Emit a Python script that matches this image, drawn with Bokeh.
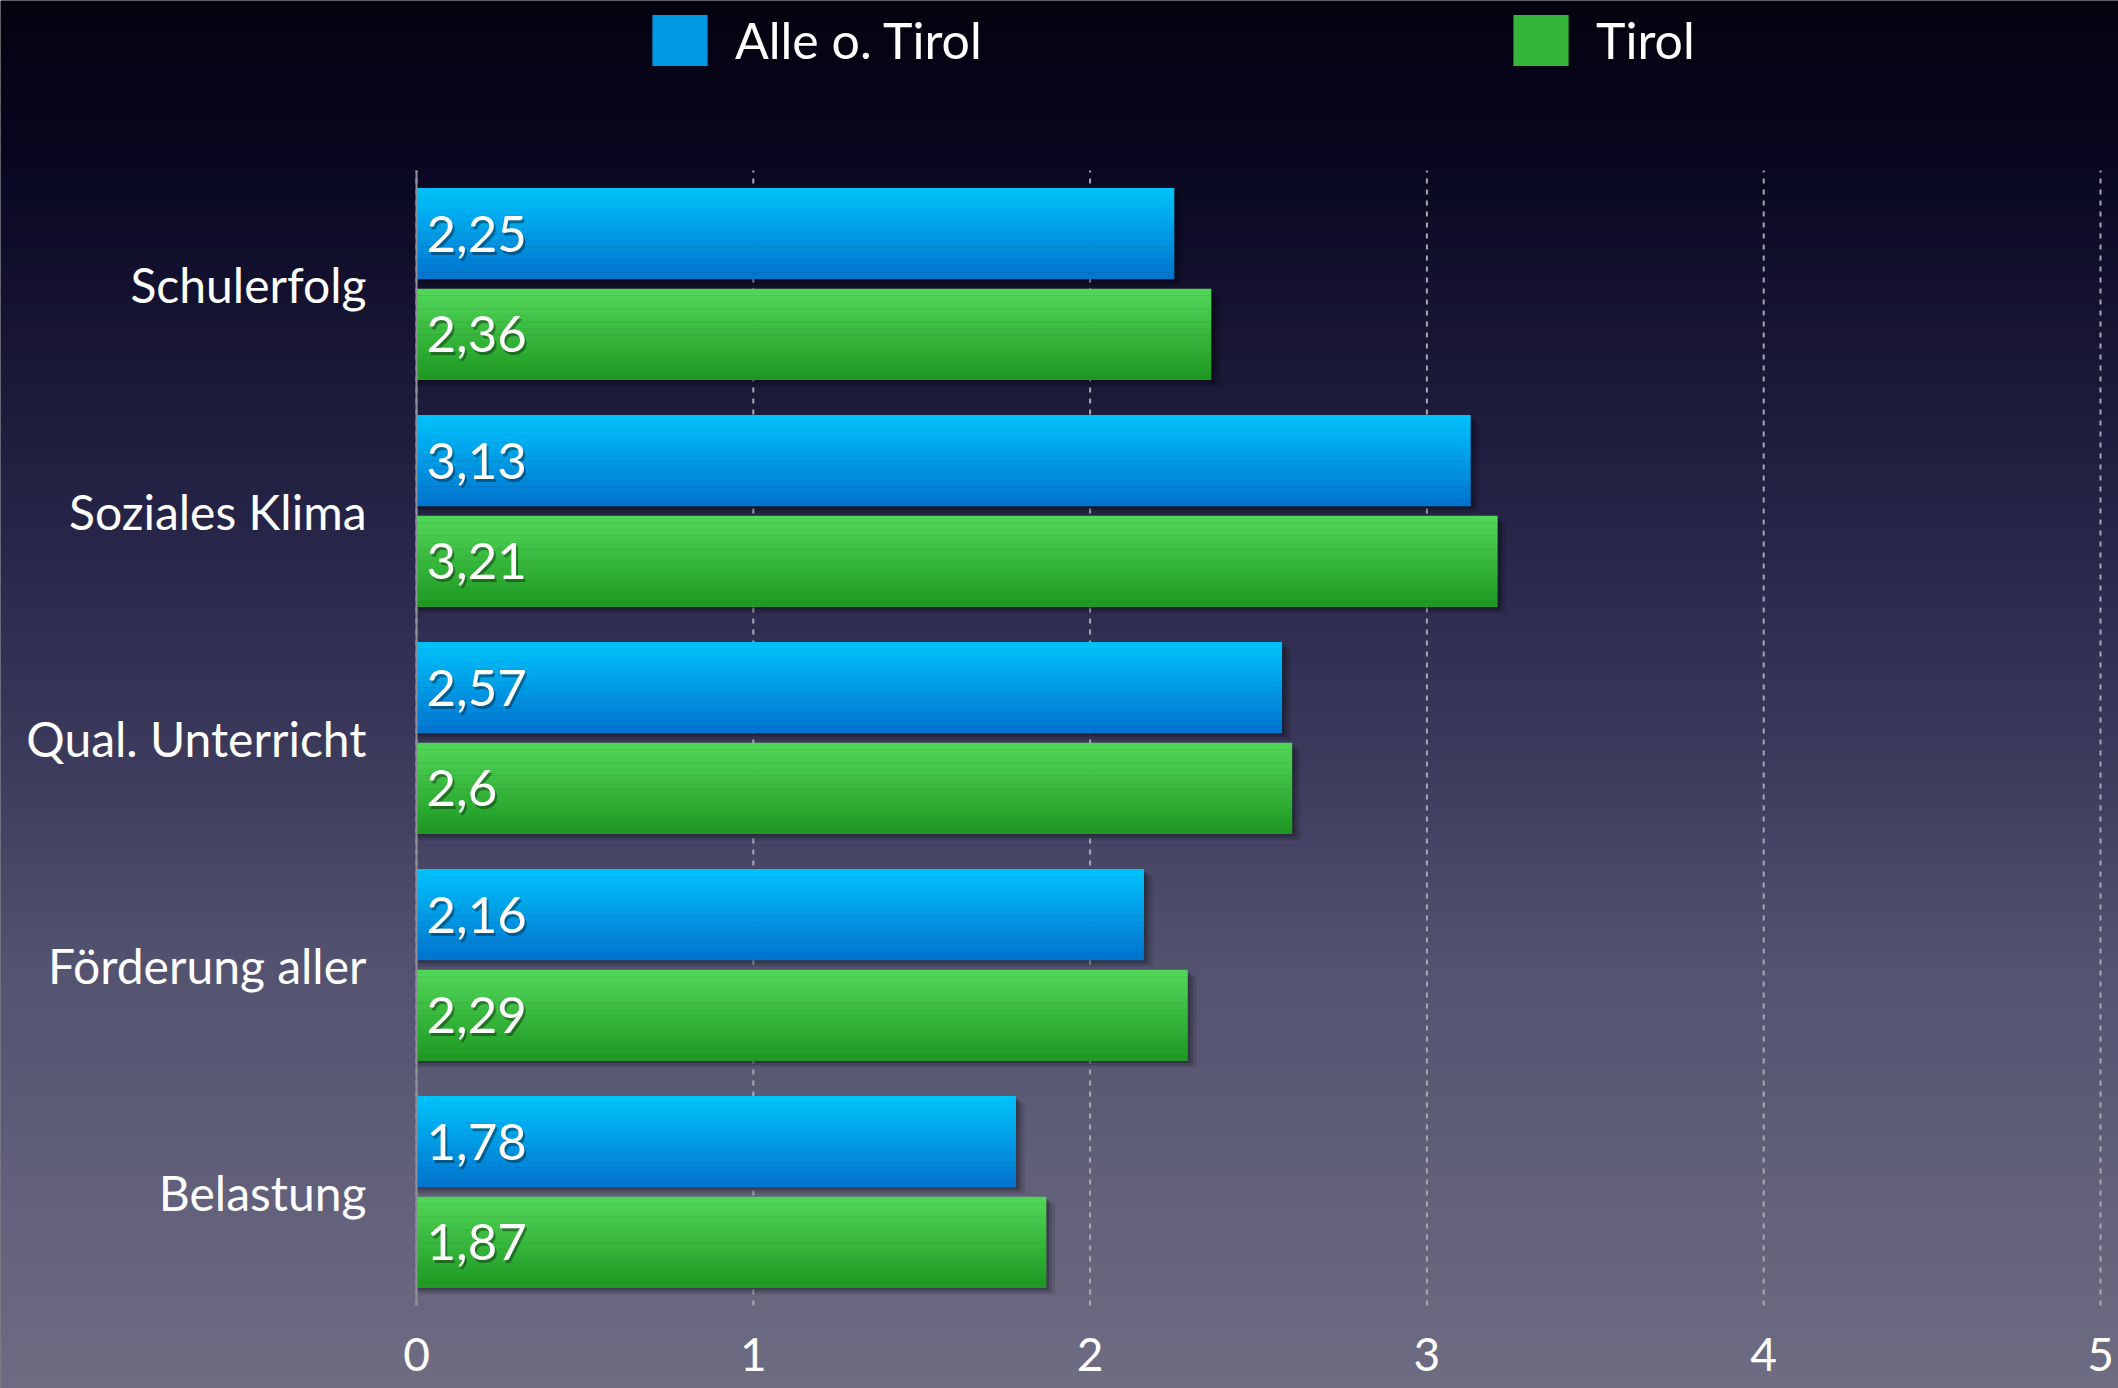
from bokeh.plotting import figure
from bokeh.models import (Range1d, FixedTicker, Legend, LegendItem,
                          BoxAnnotation, ColumnDataSource)
from bokeh.transform import dodge
from bokeh.core.properties import value
from bokeh.embed import file_html
from bokeh.resources import INLINE

# ---------------- data ----------------
categories = ["Schulerfolg", "Soziales Klima", "Qual. Unterricht", "Förderung aller", "Belastung"]
alle_o_tirol = [2.25, 3.13, 2.57, 2.16, 1.78]
tirol = [2.36, 3.21, 2.6, 2.29, 1.87]
series_names = ["Alle o. Tirol", "Tirol"]
x_ticks = [0, 1, 2, 3, 4, 5]


def de(v):
    return f"{v:g}".replace(".", ",")


n = len(categories)
cat_pos = [n - 1 - i for i in range(n)]          # first category at the top
source = ColumnDataSource(dict(
    cat=categories,
    ypos=cat_pos,
    a=alle_o_tirol,
    t=tirol,
    a_lbl=[de(v) for v in alle_o_tirol],
    t_lbl=[de(v) for v in tirol],
))
grid_src = ColumnDataSource(dict(x=x_ticks))

# ---------------- layout ----------------
W, H = 2118, 1388
FONT = "Lato"
FR_L, FR_R, FR_T, FR_B = 416, 2100, 170, 1305      # plotting area inside the canvas
px_x = (FR_R - FR_L) / 5.0
px_y = (FR_B - FR_T) / n
x0 = -FR_L / px_x
x1 = 5 + (W - FR_R) / px_x
y0 = -0.5 - (H - FR_B) / px_y
y1 = n - 0.5 + FR_T / px_y


def hex2rgb(h):
    h = h.lstrip("#")
    return tuple(int(h[i:i + 2], 16) for i in (0, 2, 4))


def lerp_col(c0, c1, f):
    a, b = hex2rgb(c0), hex2rgb(c1)
    return "#%02x%02x%02x" % tuple(int(round(a[i] + (b[i] - a[i]) * f)) for i in range(3))


def stops_color(stops, y):
    for (ya, ca), (yb, cb) in zip(stops, stops[1:]):
        if ya <= y <= yb:
            return lerp_col(ca, cb, (y - ya) / (yb - ya))
    return stops[-1][1]


p = figure(width=W, height=H,
           x_range=Range1d(x0, x1), y_range=Range1d(y0, y1),
           output_backend="svg", toolbar_location=None,
           min_border_left=0, min_border_right=0,
           min_border_top=0, min_border_bottom=0)
p.background_fill_color = "#04030f"
p.border_fill_color = "#04030f"
p.outline_line_color = None
p.xgrid.visible = False
p.ygrid.visible = False

# background gradient (canvas units)
bg_stops = [(0, "#04030f"), (150, "#08061f"), (560, "#29284b"), (770, "#3d3c5d"),
            (975, "#545370"), (1388, "#6e6c83")]
NB = 90
step = H / NB
for i in range(NB):
    ya = i * step
    yb = (i + 1) * step
    col = stops_color(bg_stops, (ya + yb) / 2)
    p.add_layout(BoxAnnotation(left=0, right=W, top=ya, bottom=yb + 1,
                               left_units="canvas", right_units="canvas",
                               top_units="canvas", bottom_units="canvas",
                               fill_color=col, fill_alpha=1, line_color=None,
                               level="image"))

# dashed vertical grid lines (at the x ticks, spanning the category bands)
p.segment(x0="x", x1="x", y0=-0.5, y1=n - 0.5, source=grid_src,
          line_color="#a9a8b2", line_width=2, line_dash="5 6")

BAR_H = 0.40
OFF = 0.222
series = [
    ("a", "a_lbl", OFF, "#00c3fb", "#0073ce"),
    ("t", "t_lbl", -OFF, "#52d859", "#1d9721"),
]

# soft shadows
for field, _, off, _, _ in series:
    for dx, dy, al in [(0.008, -0.010, 0.18), (0.016, -0.020, 0.14), (0.026, -0.030, 0.10)]:
        p.hbar(y=dodge("ypos", off + dy), left=0, right=dodge(field, dx),
               height=BAR_H, source=source,
               fill_color="#000000", fill_alpha=al, line_color=None)

NS = 14
legend_renderers = []
for field, lbl, off, ctop, cbot in series:
    sh = BAR_H / NS
    mid = None
    for k in range(NS):
        f = (k + 0.5) / NS
        col = lerp_col(ctop, cbot, f)
        yc = off + BAR_H / 2 - (k + 0.5) * sh
        r = p.hbar(y=dodge("ypos", yc), left=0, right=field,
                   height=sh * 1.08, source=source, fill_color=col, line_color=None)
        if k == NS // 2:
            mid = r
    legend_renderers.append(mid)
    p.text(x=0, y=dodge("ypos", off), text=lbl, source=source,
           x_offset=12, y_offset=3, text_baseline="middle", text_align="left",
           text_color="#000000", text_alpha=0.35, text_font=value(FONT), text_font_size="51px")
    p.text(x=0, y=dodge("ypos", off), text=lbl, source=source,
           x_offset=10, y_offset=0, text_baseline="middle", text_align="left",
           text_color="#ffffff", text_font=value(FONT), text_font_size="51px")

# axes, fixed inside the canvas
xa = p.xaxis[0]
xa.fixed_location = -0.5
xa.ticker = FixedTicker(ticks=x_ticks)
xa.axis_line_color = None
xa.major_tick_line_color = None
xa.minor_tick_line_color = None
xa.major_label_standoff = 26
xa.major_label_text_color = "#ffffff"
xa.major_label_text_font = FONT
xa.major_label_text_font_size = "46px"

ya_ = p.yaxis[0]
ya_.fixed_location = 0
ya_.bounds = (-0.5, n - 0.5)
ya_.ticker = FixedTicker(ticks=cat_pos)
ya_.major_label_overrides = {pos: name for pos, name in zip(cat_pos, categories)}
ya_.axis_line_color = "#8f8e98"
ya_.axis_line_width = 2
ya_.major_tick_line_color = None
ya_.minor_tick_line_color = None
ya_.major_label_standoff = 44
ya_.major_label_text_color = "#ffffff"
ya_.major_label_text_font = FONT
ya_.major_label_text_font_size = "48px"

# legends above the plotting area
for name, r, xpos in [(series_names[0], legend_renderers[0], 645),
                      (series_names[1], legend_renderers[1], 1506)]:
    lg = Legend(items=[LegendItem(label=name, renderers=[r])],
                location=(xpos, H - 72), orientation="horizontal",
                glyph_width=69, glyph_height=64, label_standoff=21,
                padding=0, margin=0, border_line_color=None,
                background_fill_alpha=0,
                label_text_color="#ffffff", label_text_font=FONT,
                label_text_font_size="50px")
    p.add_layout(lg)

open("out.html", "w").write(file_html(p, INLINE))
